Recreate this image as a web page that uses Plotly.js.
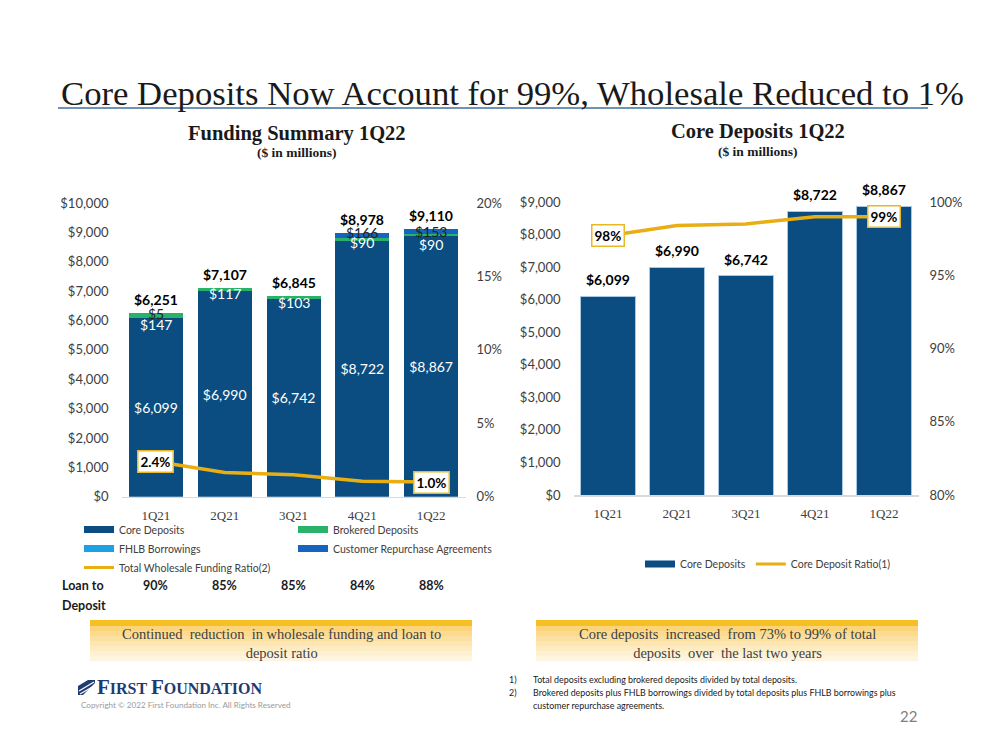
<!DOCTYPE html>
<html><head><meta charset="utf-8">
<script src="https://cdn.plot.ly/plotly-3.0.1.min.js"></script>
<style>html,body{margin:0;padding:0;background:#fff}#chart{width:999px;height:750px}</style>
</head><body><div id="chart"></div>
<script>
// ---------- data ----------
const quarters = ['1Q21', '2Q21', '3Q21', '4Q21', '1Q22'];
const coreDeposits = [6099, 6990, 6742, 8722, 8867];
const brokeredDeposits = [147, 117, 103, 90, 90];
const fhlbBorrowings = [5, 0, 0, 0, 0];
const customerRepos = [0, 0, 0, 166, 153];
const totalFunding = [6251, 7107, 6845, 8978, 9110];
const wholesaleRatio = [0.024, 0.0165, 0.015, 0.0105, 0.010];
const loanToDeposit = [0.90, 0.85, 0.85, 0.84, 0.88];
const coreDepositRatio = [0.977, 0.984, 0.985, 0.990, 0.990];

// ---------- helpers ----------
const W = 999, H = 750;
const X = p => p / W;
const Y = p => 1 - p / H;
const C = {core: '#0B4D80', brok: '#2BB26A', fhlb: '#1DA1E2', repo: '#1565C0', gold: '#E8AE14', txt: '#404040'};
const SANS = 'Lato, "Open Sans", sans-serif';
const SERIF = '"Liberation Serif", "DejaVu Serif", serif';
const fmt$ = v => '$' + v.toLocaleString('en-US');

const traces = [];
// left chart bars
traces.push({type: 'bar', x: quarters, y: coreDeposits, xaxis: 'x', yaxis: 'y', width: 0.785,
  marker: {color: C.core}, showlegend: false, texttemplate: '$%{y:,}', textposition: 'inside',
  insidetextanchor: 'middle', textfont: {family: SANS, size: 14, color: '#fff'}, hoverinfo: 'skip'});
traces.push({type: 'bar', x: quarters, y: brokeredDeposits, xaxis: 'x', yaxis: 'y', width: 0.785,
  marker: {color: C.brok}, showlegend: false, textposition: 'none', hoverinfo: 'skip'});
traces.push({type: 'bar', x: quarters, y: fhlbBorrowings, xaxis: 'x', yaxis: 'y', width: 0.785,
  marker: {color: C.fhlb}, showlegend: false, textposition: 'none', hoverinfo: 'skip'});
traces.push({type: 'bar', x: quarters, y: customerRepos, xaxis: 'x', yaxis: 'y', width: 0.785,
  marker: {color: C.repo}, showlegend: false, textposition: 'none', hoverinfo: 'skip'});
traces.push({type: 'scatter', mode: 'lines', x: quarters, y: wholesaleRatio, xaxis: 'x', yaxis: 'y2',
  line: {color: C.gold, width: 3.5}, showlegend: false, hoverinfo: 'skip'});
// right chart
traces.push({type: 'bar', x: quarters, y: coreDeposits, xaxis: 'x2', yaxis: 'y3', width: 0.81,
  marker: {color: C.core, line: {color: '#A9C8E6', width: 1}}, showlegend: false, hoverinfo: 'skip'});
traces.push({type: 'scatter', mode: 'lines', x: quarters, y: coreDepositRatio, xaxis: 'x2', yaxis: 'y4',
  line: {color: C.gold, width: 3.5}, showlegend: false, hoverinfo: 'skip'});

// legend entries (wide swatches)
const leg = (name, color, width, legend, xa, ya) => ({type: 'scatter', mode: 'lines', x: [null], y: [null],
  xaxis: xa, yaxis: ya, name, legend, line: {color, width}, showlegend: true, hoverinfo: 'skip'});
traces.push(leg('Core Deposits', C.core, 7, 'legend', 'x', 'y'));
traces.push(leg('FHLB Borrowings', C.fhlb, 7, 'legend', 'x', 'y'));
traces.push(leg('Total Wholesale Funding Ratio(2)', C.gold, 3, 'legend', 'x', 'y2'));
traces.push(leg('Brokered Deposits', C.brok, 7, 'legend2', 'x', 'y'));
traces.push(leg('Customer Repurchase Agreements', C.repo, 7, 'legend2', 'x', 'y'));
traces.push(leg('Core Deposits', C.core, 7, 'legend3', 'x2', 'y3'));
traces.push(leg('Core Deposit Ratio(1)', C.gold, 3, 'legend3', 'x2', 'y4'));

// ---------- annotations ----------
const ann = [];
const A = (o) => ann.push(Object.assign({showarrow: false, xref: 'paper', yref: 'paper', xanchor: 'center', yanchor: 'middle'}, o));

// title / subtitles
A({x: X(59), y: Y(93), xanchor: 'left', text: 'Core Deposits Now Account for 99%, Wholesale Reduced to 1%',
  font: {family: SERIF, size: 34.7, color: '#1a1a1a'}});
A({x: X(297), y: Y(133), text: '<b>Funding Summary 1Q22</b>', font: {family: SERIF, size: 20.5, color: '#1a1a1a'}});
A({x: X(297), y: Y(153), text: '<b>($ in millions)</b>', font: {family: SERIF, size: 13.5, color: '#1a1a1a'}});
A({x: X(758), y: Y(132), text: '<b>Core Deposits 1Q22</b>', font: {family: SERIF, size: 20.5, color: '#1a1a1a'}});
A({x: X(758), y: Y(151), text: '<b>($ in millions)</b>', font: {family: SERIF, size: 13.5, color: '#1a1a1a'}});

// left totals
quarters.forEach((q, i) => {
  ann.push({x: q, y: totalFunding[i], xref: 'x', yref: 'y', xanchor: 'center', yanchor: 'bottom', yshift: 3, showarrow: false,
    text: '<b>' + fmt$(totalFunding[i]) + '</b>', font: {family: SANS, size: 14, color: '#000'}});
});
// left small segment labels (nudges in px)
const brokNudge = [-9, -4, -5, -3, -10];
const fhlbNudge = [0, 0, 0, 0, 0];
const repoNudge = [0, 0, 0, 3, 0];
quarters.forEach((q, i) => {
  const b0 = coreDeposits[i];
  if (brokeredDeposits[i] > 0) ann.push({x: q, y: b0 + brokeredDeposits[i] / 2, xref: 'x', yref: 'y', showarrow: false,
    xanchor: 'center', yanchor: 'middle', yshift: brokNudge[i], text: fmt$(brokeredDeposits[i]), font: {family: SANS, size: 14, color: '#fff'}});
  const f0 = b0 + brokeredDeposits[i];
  if (fhlbBorrowings[i] > 0) ann.push({x: q, y: f0 + fhlbBorrowings[i] / 2, xref: 'x', yref: 'y', showarrow: false,
    xanchor: 'center', yanchor: 'middle', yshift: fhlbNudge[i], text: fmt$(fhlbBorrowings[i]), font: {family: SANS, size: 14, color: '#222'}});
  const r0 = f0 + fhlbBorrowings[i];
  if (customerRepos[i] > 0) ann.push({x: q, y: r0 + customerRepos[i] / 2, xref: 'x', yref: 'y', showarrow: false,
    xanchor: 'center', yanchor: 'middle', yshift: repoNudge[i], text: fmt$(customerRepos[i]), font: {family: SANS, size: 14, color: '#222'}});
});
// ratio boxes
const box = (x, y, xr, yr, txt) => ann.push({x, y, xref: xr, yref: yr, showarrow: false, xanchor: 'center', yanchor: 'middle',
  text: '<b>' + txt + '</b>', bgcolor: '#fff', bordercolor: '#E9B825', borderwidth: 1.5, borderpad: 2,
  font: {family: SANS, size: 13.5, color: '#000'}});
[0, 4].forEach(i => box(quarters[i], wholesaleRatio[i], 'x', 'y2', (wholesaleRatio[i] * 100).toFixed(1) + '%'));
[0, 4].forEach(i => box(quarters[i], coreDepositRatio[i], 'x2', 'y4', Math.round(coreDepositRatio[i] * 100) + '%'));
// right totals
quarters.forEach((q, i) => {
  ann.push({x: q, y: coreDeposits[i], xref: 'x2', yref: 'y3', xanchor: 'center', yanchor: 'bottom', yshift: 6, showarrow: false,
    text: '<b>' + fmt$(coreDeposits[i]) + '</b>', font: {family: SANS, size: 14, color: '#000'}});
});
// loan to deposit row
A({x: X(60), y: Y(585), xanchor: 'left', text: '<b>Loan to</b>', font: {family: SANS, size: 12.5, color: '#1a1a1a'}});
A({x: X(60), y: Y(605), xanchor: 'left', text: '<b>Deposit</b>', font: {family: SANS, size: 12.5, color: '#1a1a1a'}});
quarters.forEach((q, i) => {
  ann.push({x: q, y: Y(585), xref: 'x', yref: 'paper', showarrow: false, xanchor: 'center', yanchor: 'middle',
    text: '<b>' + Math.round(loanToDeposit[i] * 100) + '%</b>', font: {family: SANS, size: 12.5, color: '#1a1a1a'}});
});
// callout boxes text
A({x: X(281), y: Y(643), text: 'Continued  reduction  in wholesale funding and loan to<br>deposit ratio',
  font: {family: SERIF, size: 14.5, color: '#404040'}});
A({x: X(727), y: Y(643), text: 'Core deposits  increased  from 73% to 99% of total<br>deposits  over  the last two years',
  font: {family: SERIF, size: 14.5, color: '#404040'}});
// footnotes
const FN = {family: SANS, size: 8.9, color: '#1a1a1a'};
A({x: X(507), y: Y(679), xanchor: 'left', text: '1)', font: FN});
A({x: X(507), y: Y(692), xanchor: 'left', text: '2)', font: FN});
A({x: X(531), y: Y(679), xanchor: 'left', text: 'Total deposits excluding brokered deposits divided by total deposits.', font: FN});
A({x: X(531), y: Y(692), xanchor: 'left', text: 'Brokered deposits plus FHLB borrowings divided by total deposits plus FHLB borrowings plus', font: FN});
A({x: X(531), y: Y(705), xanchor: 'left', text: 'customer repurchase agreements.', font: FN});
A({x: X(908), y: Y(716), text: '22', font: {family: SANS, size: 15, color: '#7f7f7f'}});
// logo
A({x: X(95), y: Y(687), xanchor: 'left', text: '<b><span style="font-size:21px">F</span>IRST <span style="font-size:21px">F</span>OUNDATION</b>',
  font: {family: SERIF, size: 16, color: '#1F3B73'}});
A({x: X(79), y: Y(705), xanchor: 'left', text: 'Copyright © 2022 First Foundation Inc. All Rights Reserved',
  font: {family: SANS, size: 8.1, color: '#9a9a9a'}});

// ---------- shapes ----------
const shapes = [];
shapes.push({type: 'line', xref: 'paper', yref: 'paper', x0: X(58), x1: X(928), y0: Y(108), y1: Y(108),
  line: {color: '#3E6F9C', width: 1.5}});
const bands = ['#FBD47C', '#FCDA8E', '#FCE09F', '#FDE6B1', '#FDEBC2', '#FEF0D2', '#FEF4DF'];
[[90, 472], [536, 918]].forEach(([x0, x1]) => {
  shapes.push({type: 'rect', xref: 'paper', yref: 'paper', x0: X(x0), x1: X(x1), y0: Y(626), y1: Y(620),
    fillcolor: '#F6C024', line: {width: 0}, layer: 'below'});
  const h = 35 / bands.length;
  bands.forEach((c, k) => shapes.push({type: 'rect', xref: 'paper', yref: 'paper', x0: X(x0), x1: X(x1),
    y0: Y(626 + (k + 1) * h + 0.3), y1: Y(626 + k * h), fillcolor: c, line: {width: 0}, layer: 'below'}));
});
// logo mark: navy slanted block with white stripes
const P = (pts) => 'M' + pts.map(([a, b]) => X(a) + ',' + Y(b)).join(' L') + ' Z';
shapes.push({type: 'path', xref: 'paper', yref: 'paper', path: P([[78, 695], [78, 686], [88, 680], [95, 680], [95, 683], [83, 695]]),
  fillcolor: '#1F3B73', line: {width: 0}});
[[[79, 691], [94, 682]], [[80, 694], [94, 686]]].forEach(([a, b]) =>
  shapes.push({type: 'line', xref: 'paper', yref: 'paper', x0: X(a[0]), y0: Y(a[1]), x1: X(b[0]), y1: Y(b[1]),
    line: {color: '#fff', width: 1.2}}));

// ---------- layout ----------
const tickFont = {family: SANS, size: 13, color: C.txt};
const catFont = {family: SERIF, size: 13, color: C.txt};
const legFont = {family: SANS, size: 10.5, color: C.txt};
const layout = {
  width: W, height: H, margin: {l: 0, r: 0, t: 0, b: 0}, paper_bgcolor: '#fff', plot_bgcolor: 'rgba(0,0,0,0)',
  barmode: 'stack', showlegend: true, hovermode: false,
  font: {family: SANS, color: C.txt},
  xaxis: {domain: [X(121.5), X(465.5)], anchor: 'y', type: 'category', showline: true, linecolor: '#D9D9D9', linewidth: 1.5,
    ticks: '', tickfont: catFont, ticklabelstandoff: 6, fixedrange: true},
  yaxis: {domain: [Y(496.7), Y(203)], range: [0, 10000], dtick: 1000, tickprefix: '$', tickformat: ',d', showgrid: false,
    zeroline: false, tickfont: tickFont, ticklabelstandoff: 12, anchor: 'x'},
  yaxis2: {overlaying: 'y', side: 'right', anchor: 'x', range: [0, 0.2], dtick: 0.05, tickformat: '.0%', showgrid: false,
    zeroline: false, tickfont: tickFont, ticklabelstandoff: 10},
  xaxis2: {domain: [X(573.5), X(918.5)], anchor: 'y3', type: 'category', showline: true, linecolor: '#D9D9D9', linewidth: 1.5,
    ticks: '', tickfont: catFont, ticklabelstandoff: 6},
  yaxis3: {domain: [Y(495), Y(202)], range: [0, 9000], dtick: 1000, tickprefix: '$', tickformat: ',d', showgrid: false,
    zeroline: false, tickfont: tickFont, ticklabelstandoff: 12, anchor: 'x2'},
  yaxis4: {overlaying: 'y3', side: 'right', anchor: 'x2', range: [0.8, 1.0], dtick: 0.05, tickformat: '.0%', showgrid: false,
    zeroline: false, tickfont: tickFont, ticklabelstandoff: 10},
  legend: {x: X(79), y: Y(515), xanchor: 'left', yanchor: 'top', orientation: 'v', traceorder: 'normal', font: legFont,
    bgcolor: 'rgba(0,0,0,0)', tracegroupgap: 0, itemwidth: 30},
  legend2: {x: X(293), y: Y(515), xanchor: 'left', yanchor: 'top', orientation: 'v', traceorder: 'normal', font: legFont,
    bgcolor: 'rgba(0,0,0,0)', tracegroupgap: 0, itemwidth: 30},
  legend3: {x: X(640), y: Y(564), xanchor: 'left', yanchor: 'middle', orientation: 'h', traceorder: 'normal', font: legFont,
    bgcolor: 'rgba(0,0,0,0)', itemwidth: 30},
  annotations: ann, shapes: shapes
};
Plotly.newPlot('chart', traces, layout, {staticPlot: true, displayModeBar: false});
</script>
</body></html>
